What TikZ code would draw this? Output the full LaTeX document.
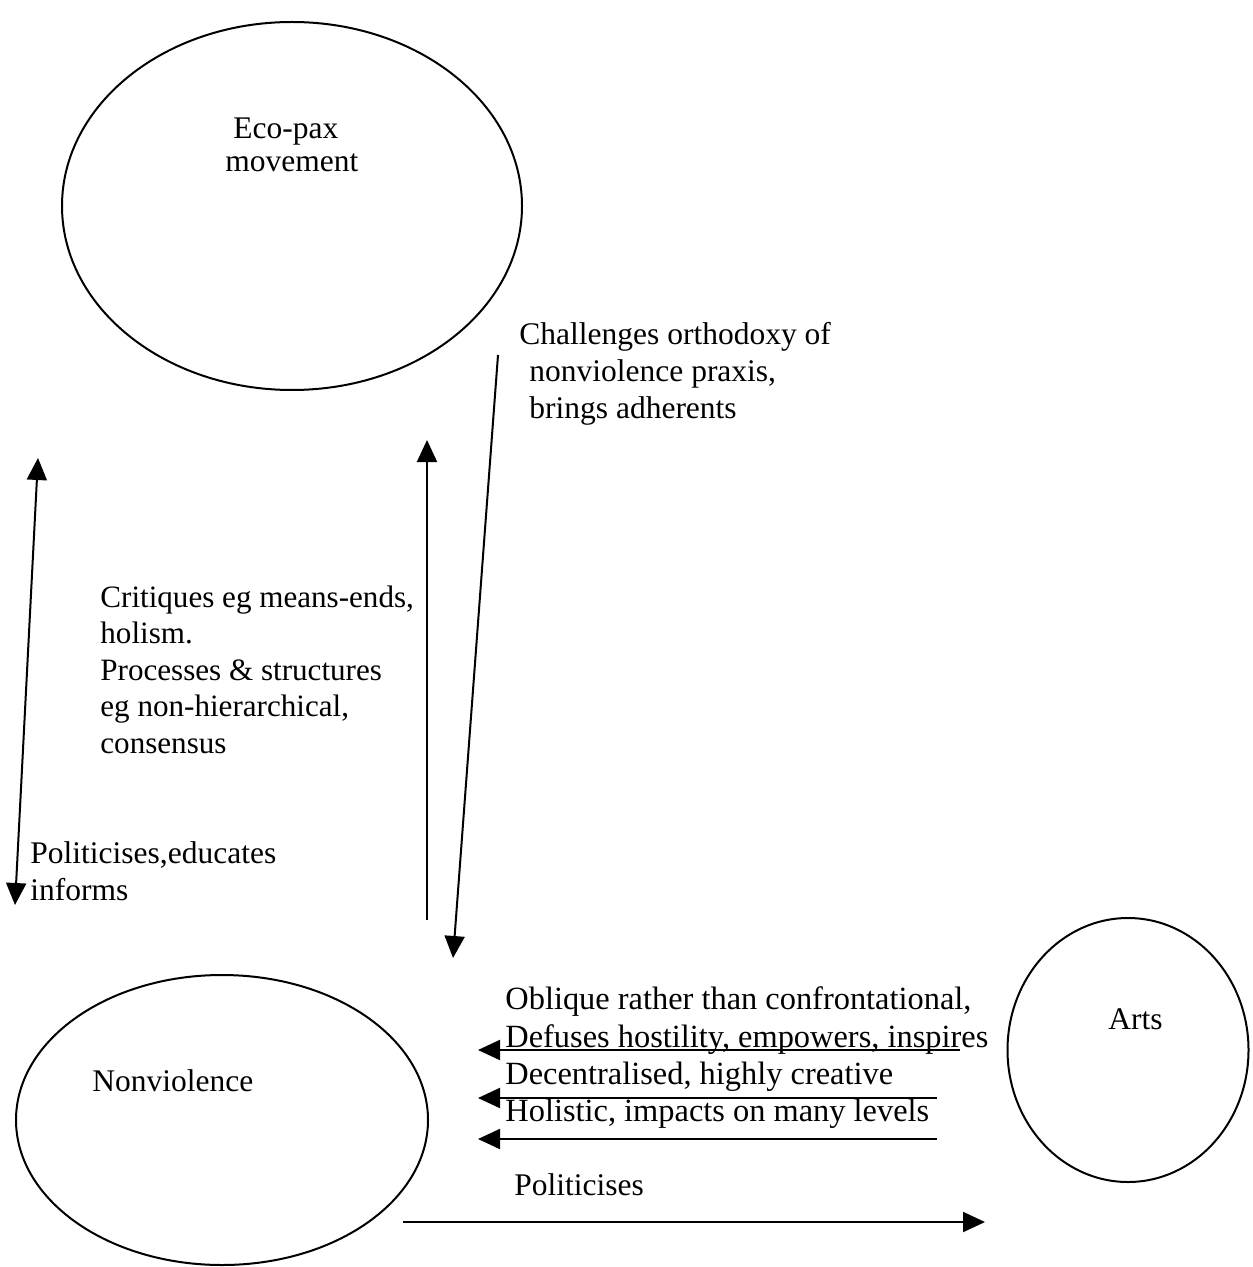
\documentclass[tikz,border=0pt]{standalone}
\usepackage{fontspec}
\setmainfont{Liberation Serif}
\usetikzlibrary{shapes.geometric,arrows.meta}
\begin{document}
\begin{tikzpicture}[x=0.5pt,y=-0.5pt,
  oval/.style={draw,ellipse,line width=1pt,inner sep=0pt},
  lbl/.style={anchor=base west,inner sep=0pt,font=\fontsize{15.75}{18}\selectfont},
  lblb/.style={lbl,font=\fontsize{16.2}{18}\selectfont},
  lbls/.style={lbl,font=\fontsize{15.55}{18}\selectfont},
  conn/.style={line width=1pt,-{Triangle[length=11pt,width=10pt]}},
  conn2/.style={line width=1pt,{Triangle[length=11pt,width=10pt]}-{Triangle[length=11pt,width=10pt]}}]
\useasboundingbox (0,0) rectangle (1252,1267);
% ellipses
\node[oval,minimum width=230pt,minimum height=184pt] (eco) at (292,206) {};
\node[oval,minimum width=206pt,minimum height=145pt] (nv) at (222,1120) {};
\node[oval,minimum width=120.5pt,minimum height=132pt] (arts) at (1128,1050) {};
% labels in ellipses
\node[lbl] (ecoA) at (233,139) {Eco-pax};
\node[lbl] (ecoB) at (225,172) {movement};
\node[lbl] (nvt) at (92,1091) {Nonviolence};
\node[lbl] (artst) at (1108,1029) {Arts};
% text blocks
\node[lbl] (chA) at (519,344) {Challenges orthodoxy of};
\node[lbl] (chB) at (529,381) {nonviolence praxis,};
\node[lbl] (chC) at (529,418) {brings adherents};
\node[lbls] (crA) at (100,607) {Critiques eg means-ends,};
\node[lbls] (crB) at (100,643) {holism.};
\node[lbls] (crC) at (100,680) {Processes \& structures};
\node[lbls] (crD) at (100,716) {eg non-hierarchical,};
\node[lbls] (crE) at (100,753) {consensus};
\node[lbl] (poA) at (30,863) {Politicises,educates};
\node[lbl] (poB) at (30,900) {informs};
\node[lblb] (obA) at (505,1009) {Oblique rather than confrontational,};
\node[lblb] (obB) at (505,1047) {Defuses hostility, empowers, inspires};
\node[lblb] (obC) at (505,1084) {Decentralised, highly creative};
\node[lblb] (obD) at (505,1121) {Holistic, impacts on many levels};
\node[lbl] (pol) at (514,1195) {Politicises};
% connector end points
\coordinate (a1s) at (15,905);
\coordinate (a1e) at (38,458);
\coordinate (a2s) at (427,920);
\coordinate (a2e) at (427,440);
\coordinate (a3s) at (498,355);
\coordinate (a3e) at (453,958);
\coordinate (a4s) at (960,1050);
\coordinate (a4e) at (478,1050);
\coordinate (a5s) at (937,1098);
\coordinate (a5e) at (478,1098);
\coordinate (a6s) at (937,1139);
\coordinate (a6e) at (478,1139);
\coordinate (a7s) at (403,1222);
\coordinate (a7e) at (985,1222);
% connectors
\draw[conn2] (a1s) -- (a1e);
\draw[conn] (a2s) -- (a2e);
\draw[conn] (a3s) -- (a3e);
\draw[conn] (a4s) -- (a4e);
\draw[conn] (a5s) -- (a5e);
\draw[conn] (a6s) -- (a6e);
\draw[conn] (a7s) -- (a7e);
\end{tikzpicture}
\end{document}
